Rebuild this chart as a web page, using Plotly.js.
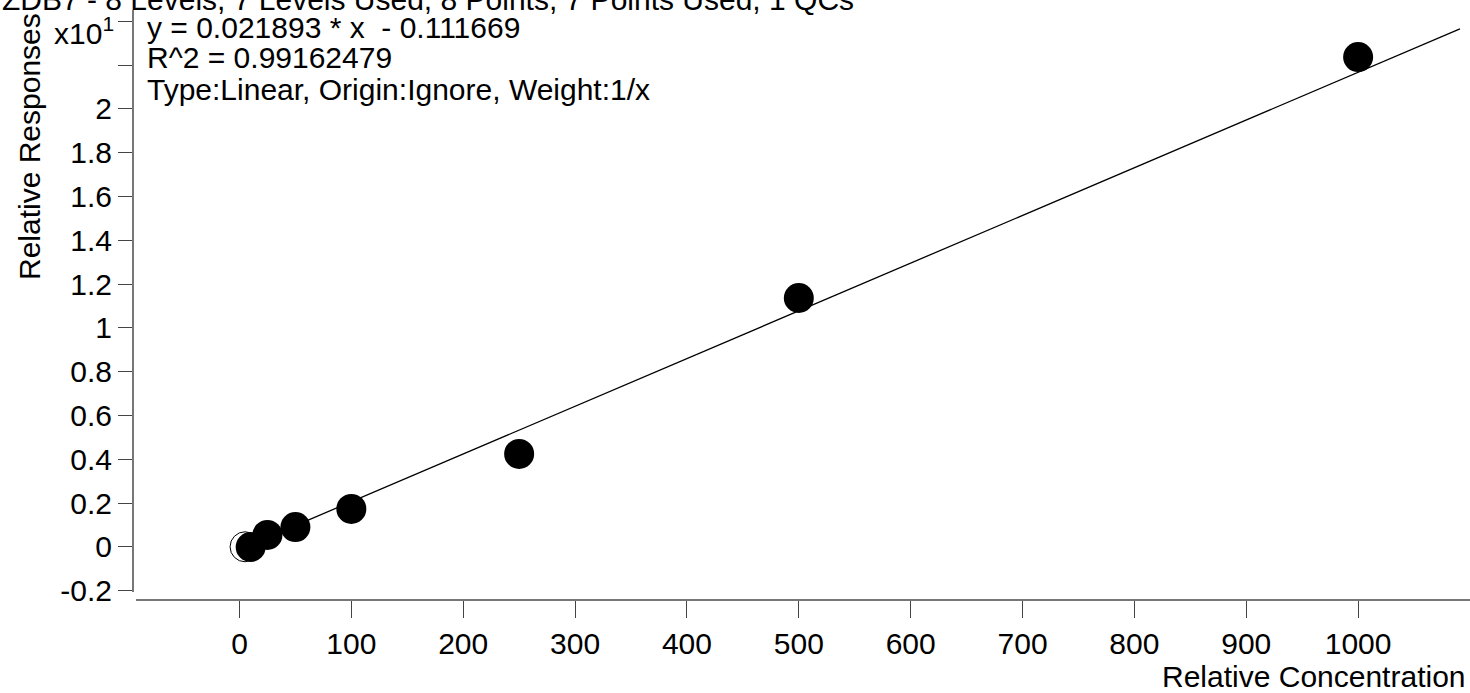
<!DOCTYPE html>
<html>
<head>
<meta charset="utf-8">
<script src="https://cdn.plot.ly/plotly-3.0.1.min.js"></script>
<style>html,body{margin:0;padding:0;background:#fff;}#chart{width:1470px;height:693px;}</style>
</head>
<body>
<div id="chart"></div>
<script>
// Calibration levels (Relative Concentration)
var usedX = [10, 25, 50, 100, 250, 500, 1000];
// Relative Responses (axis units x10^1)
var usedY = [0.0, 0.055, 0.091, 0.174, 0.425, 1.137, 2.237];
// Excluded point
var excludedX = [5];
var excludedY = [0.001];
// Fitted line endpoints
var fitX = [5, 1091];
var fitY = [-0.0001, 2.366];
// Tick values / labels
var xTicks = [0, 100, 200, 300, 400, 500, 600, 700, 800, 900, 1000];
var yTicks = [-0.2, 0, 0.2, 0.4, 0.6, 0.8, 1, 1.2, 1.4, 1.6, 1.8, 2];
var yTickText = ['-0.2', '0', '0.2', '0.4', '0.6', '0.8', '1', '1.2', '1.4', '1.6', '1.8', '2'];
var yUnlabeledTicks = [2.2, 2.4];
var yExponentLabel = 'x10<sup>1</sup>';
var titleText = 'ZDB7 - 8 Levels, 7 Levels Used, 8 Points, 7 Points Used, 1 QCs';
var eqLines = ['y = 0.021893 * x  - 0.111669', 'R^2 = 0.99162479', 'Type:Linear, Origin:Ignore, Weight:1/x'];

var FONT = 'Liberation Sans, Arial, sans-serif';
var FS = 30;

var traces = [
  {x: fitX, y: fitY, mode: 'lines', type: 'scatter', line: {color: '#000', width: 1.3}, hoverinfo: 'skip', showlegend: false},
  {x: excludedX, y: excludedY, mode: 'markers', type: 'scatter', marker: {size: 30, color: '#fff', line: {color: '#000', width: 1}}, showlegend: false},
  {x: usedX, y: usedY, mode: 'markers', type: 'scatter', marker: {size: 30, color: '#000', line: {color: '#000', width: 0}}, showlegend: false}
];

var annotations = [
  {xref: 'paper', yref: 'paper', x: -0.0987, y: 1.017, xanchor: 'left', yanchor: 'middle', text: titleText, showarrow: false, font: {family: FONT, size: FS, color: '#000'}},
  {xref: 'paper', yref: 'paper', x: -0.0770, y: 0.7690, xanchor: 'center', yanchor: 'middle', text: 'Relative Responses', textangle: -90, showarrow: false, font: {family: FONT, size: FS, color: '#000'}},
  {xref: 'paper', yref: 'paper', x: 0.9985, y: -0.132, xanchor: 'right', yanchor: 'middle', text: 'Relative Concentration', showarrow: false, font: {family: FONT, size: FS, color: '#000'}},
  {xref: 'paper', yref: 'paper', x: (116 - 132) / 1338, y: 1 - (31 - 10) / 589, xanchor: 'right', yanchor: 'middle', text: yExponentLabel, showarrow: false, font: {family: FONT, size: FS, color: '#000'}}
];
var eqY = [27, 58, 90];
for (var i = 0; i < eqLines.length; i++) {
  annotations.push({xref: 'paper', yref: 'paper', x: (145 - 132) / 1338, y: 1 - (eqY[i] - 10) / 589, xanchor: 'left', yanchor: 'middle', text: eqLines[i], showarrow: false, font: {family: FONT, size: FS, color: '#000'}});
}

var layout = {
  width: 1470, height: 693,
  margin: {l: 132, r: 0, t: 10, b: 94, pad: 0},
  paper_bgcolor: '#fff', plot_bgcolor: '#fff',
  showlegend: false,
  font: {family: FONT, size: FS, color: '#000'},
  xaxis: {
    domain: [4 / 1338, 1], range: [-92.5, 1100],
    tickmode: 'array', tickvals: xTicks, ticktext: xTicks.map(String),
    ticks: 'outside', ticklen: 17, tickwidth: 1, tickcolor: '#444',
    showline: true, linecolor: '#777', linewidth: 1.5,
    showgrid: false, zeroline: false,
    tickfont: {family: FONT, size: FS, color: '#000'},
    anchor: 'free', position: 0
  },
  yaxis: {
    domain: [7 / 589, 1], range: [-0.2055, 2.452],
    tickmode: 'array', tickvals: yTicks, ticktext: yTickText,
    ticks: 'outside', ticklen: 14, tickwidth: 1, tickcolor: '#444',
    minor: {tickmode: 'array', tickvals: yUnlabeledTicks, ticks: 'outside', ticklen: 14, tickwidth: 1, tickcolor: '#444', showgrid: false},
    showline: true, linecolor: '#777', linewidth: 1.5,
    showgrid: false, zeroline: false,
    tickfont: {family: FONT, size: FS, color: '#000'},
    anchor: 'free', position: 0
  },
  annotations: annotations
};

Plotly.newPlot('chart', traces, layout, {displayModeBar: false, staticPlot: true});
</script>
</body>
</html>
